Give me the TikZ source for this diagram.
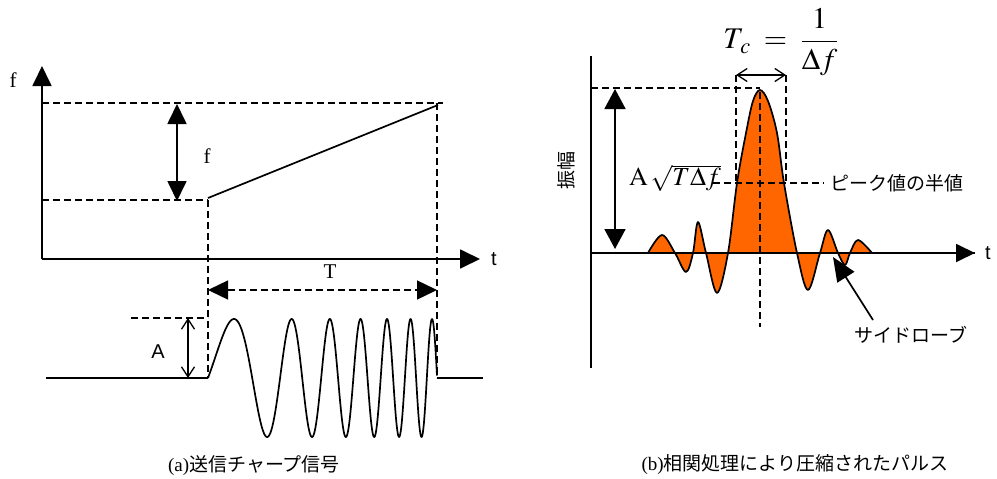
\documentclass[tikz,border=0pt]{standalone}
\usepackage{mathptmx}
\usepackage{fontspec}
\setmainfont{Liberation Serif}
\setsansfont{Liberation Sans}
\newfontfamily\jp{Noto Sans CJK JP}
\usetikzlibrary{arrows.meta}
\begin{document}
\begin{tikzpicture}[x=1pt,y=-1pt,line join=round,
  axis/.style={line width=1.8pt},
  solid line/.style={line width=1.7pt},
  dsh/.style={line width=1.4pt,dash pattern=on 7pt off 4pt},
  bigtip/.style={-{Triangle[length=20pt,width=19pt]}},
  bigboth/.style={{Triangle[length=20pt,width=19pt]}-{Triangle[length=20pt,width=19pt]}},
  barbboth/.style={{Straight Barb[length=10pt,width=13pt]}-{Straight Barb[length=10pt,width=13pt]}},
  jptext/.style={font=\jp\fontsize{19}{19}\selectfont,inner sep=0pt},
  sertext/.style={font=\fontsize{21}{21}\selectfont,inner sep=0pt},
  santext/.style={font=\sffamily\fontsize{20}{20}\selectfont,inner sep=0pt}]
\useasboundingbox (0,0) rectangle (997,479);
% ---------------- (a) left panel ----------------
\coordinate (o1) at (42,259);
\coordinate (fy) at (42,66);
\coordinate (tx) at (480,259);
\draw[axis,bigtip] (o1) -- (fy);
\draw[axis,bigtip] (o1) -- (tx);
\node[sertext] (flab) at (13,80) {f};
\node[santext] (tlab) at (494,259) {t};
% dashed guides
\coordinate (ftopL) at (42,103);
\coordinate (ftopR) at (443,103);
\coordinate (fbotL) at (42,200);
\coordinate (start) at (208,200);
\coordinate (startB) at (208,378);
\coordinate (endT) at (437,103);
\coordinate (endB) at (437,378);
\draw[dsh] (ftopL) -- (ftopR);
\draw[dsh] (fbotL) -- (start);
\draw[dsh] (start) -- (startB);
\draw[dsh] (endT) -- (endB);
% ramp
\coordinate (rampA) at (208,198);
\coordinate (rampB) at (438,105);
\draw[solid line] (rampA) -- (rampB);
% delta f arrow
\coordinate (dfT) at (177,104);
\coordinate (dfB) at (177,201);
\draw[solid line,bigboth] (dfT) -- (dfB);
\node[sertext] (dflab) at (207,156) {f};
% T arrow
\coordinate (Ta) at (208,290);
\coordinate (Tb) at (437,290);
\draw[dsh,bigboth] (Ta) -- (Tb);
\node[sertext] (Tlab) at (330,272) {T};
% A amplitude
\coordinate (Aa) at (131,318);
\coordinate (Ab) at (208,318);
\draw[dsh] (Aa) -- (Ab);
\coordinate (Aat) at (188,318);
\coordinate (Aab) at (188,378);
\draw[line width=1.3pt,barbboth] (Aat) -- (Aab);
\node[santext] (Alab) at (158,352) {A};
% baseline and chirp
\coordinate (b1) at (46,378);
\coordinate (b2) at (208,378);
\coordinate (b3) at (437,378);
\coordinate (b4) at (483,378);
\draw[solid line] (b1) -- (b2);
\draw[solid line] (b3) -- (b4);
\draw[solid line] plot[domain=0:229,samples=700,variable=\t]
  ({208+\t},{378-59*sin(deg(0.04539*\t+0.0005806*\t*\t))});
\node[inner sep=0pt,font=\fontsize{19}{19}\selectfont] (capa) at (254,466) {(a)\jp 送信チャープ信号};
% ---------------- (b) right panel ----------------
\coordinate (o2) at (591,253);
\coordinate (vtop) at (591,56);
\coordinate (vbot) at (591,368);
\coordinate (tx2) at (975,253);
\draw[axis] (vbot) -- (vtop);
\draw[axis,-{Triangle[length=19pt,width=18pt]}] (o2) -- (tx2);
\node[santext] (tlab2) at (988,253) {t};
\node[jptext,rotate=90] (amp) at (566,170) {振幅};
% pulse fill and outline
\def\pulse{(648,253) (662,235) (675,253) (686,272) (693,253) (698,222) (706,253)
  (717,293) (728,253) (737,183) (746,133) (753,101) (760,90) (768,101) (777,133)
  (784,183) (797,253) (808,290) (820,253) (828,230) (838,253) (845,265) (850,253)
  (858,240) (872,253)}
\fill[fill={rgb,255:red,255;green,102;blue,0}] plot[smooth,tension=0.55] coordinates {\pulse} -- cycle;
\draw[axis] (o2) -- (tx2);
\draw[solid line] plot[smooth,tension=0.55] coordinates {\pulse};
% guides
\coordinate (pkL) at (591,88);
\coordinate (pk) at (760,88);
\draw[dsh] (pkL) -- (pk);
\coordinate (pkc) at (760,92);
\coordinate (pkd) at (760,327);
\draw[dsh] (pkc) -- (pkd);
\coordinate (w1t) at (736,75);
\coordinate (w1b) at (736,183);
\coordinate (w2t) at (786,75);
\coordinate (w2b) at (786,183);
\draw[dsh] (w1t) -- (w1b);
\draw[dsh] (w2t) -- (w2b);
\draw[line width=1.3pt,barbboth] (w1t) -- (w2t);
\coordinate (hl) at (713,183);
\coordinate (hr) at (824,183);
\draw[dsh] (hl) -- (hr);
\node[jptext,anchor=west] (half) at (830,183) {ピーク値の半値};
% amplitude arrow
\coordinate (amT) at (615,89);
\coordinate (amB) at (615,249);
\draw[solid line,{Triangle[length=20pt,width=21pt]}-{Triangle[length=20pt,width=21pt]}] (amT) -- (amB);
\node[inner sep=0pt,font=\fontsize{26}{26}\selectfont] (sq) at (675,178) {$\mathrm{A}\,\sqrt{T\Delta f}$};
\node[inner sep=0pt,font=\fontsize{30}{30}\selectfont] (tc) at (781,42) {$T_{\,c}\;=\;\displaystyle\frac{\;1\;}{\Delta f}$};
% sidelobe arrow
\coordinate (slA) at (873,320);
\coordinate (slB) at (833,257);
\draw[solid line,-{Triangle[length=24pt,width=20pt]}] (slA) -- (slB);
\node[jptext] (slab) at (911,335) {サイドローブ};
\node[inner sep=0pt,font=\fontsize{19}{19}\selectfont] (capb) at (795,465) {(b)\jp 相関処理により圧縮されたパルス};
\end{tikzpicture}
\end{document}
